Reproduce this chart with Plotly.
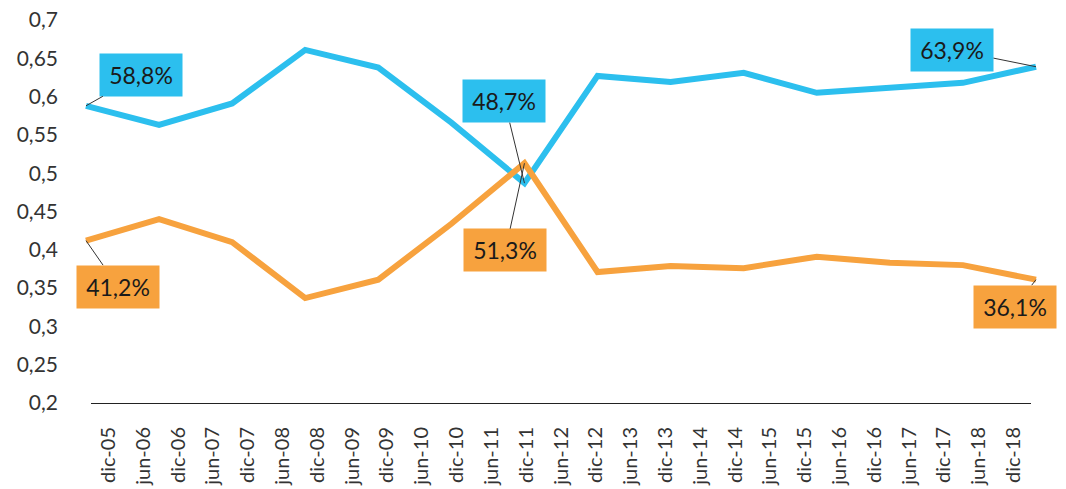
import plotly.graph_objects as go

# Category labels on the x axis (semiannual)
x_labels = ["dic-05", "jun-06", "dic-06", "jun-07", "dic-07", "jun-08", "dic-08",
            "jun-09", "dic-09", "jun-10", "dic-10", "jun-11", "dic-11", "jun-12",
            "dic-12", "jun-13", "dic-13", "jun-14", "dic-14", "jun-15", "dic-15",
            "jun-16", "dic-16", "jun-17", "dic-17", "jun-18", "dic-18"]

# Annual observations (dic-05 .. dic-18)
years = list(range(14))
blue_vals = [0.588, 0.563, 0.591, 0.661, 0.638, 0.566, 0.487, 0.627, 0.619,
             0.631, 0.605, 0.611, 0.618, 0.639]
orange_vals = [0.412, 0.440, 0.410, 0.337, 0.361, 0.434, 0.513, 0.371, 0.379,
               0.376, 0.391, 0.383, 0.380, 0.361]

# Labelled values
labels = [
    # (series, index, text, ax, ay)
    ("blue", 0, "58,8%", 55, -31),
    ("blue", 6, "48,7%", -20, -82),
    ("blue", 13, "63,9%", -84, -17),
    ("orange", 0, "41,2%", 32, 46),
    ("orange", 6, "51,3%", -19, 87),
    ("orange", 13, "36,1%", -21, 27),
]

BLUE = "#2CBFEE"
ORANGE = "#F7A23E"
FONT = "Lato"

fig = go.Figure()

# dummy trace to carry the category label axis
fig.add_trace(go.Scatter(x=x_labels, y=[None] * len(x_labels), mode="lines",
                         xaxis="x2", yaxis="y", showlegend=False, hoverinfo="skip"))
fig.add_trace(go.Scatter(x=years, y=blue_vals, mode="lines",
                         line=dict(color=BLUE, width=6), xaxis="x", yaxis="y",
                         showlegend=False, hoverinfo="skip"))
fig.add_trace(go.Scatter(x=years, y=orange_vals, mode="lines",
                         line=dict(color=ORANGE, width=6), xaxis="x", yaxis="y",
                         showlegend=False, hoverinfo="skip"))

# body margin is removed in the page (see post_script), so no offset
W, H = 1066, 489
plot_left, plot_right = 80, 1056          # page pixels
plot_top, plot_bottom = 20, 403
L = plot_left
R = W - plot_right
T = plot_top
B = H - plot_bottom
pw = plot_right - plot_left
first_px, last_px = 86, 1036              # where first / last observations sit
ppu = (last_px - first_px) / (len(years) - 1)
x_lo = -(first_px - plot_left) / ppu
x_hi = (len(years) - 1) + (plot_right - last_px) / ppu

series = {"blue": (blue_vals, BLUE), "orange": (orange_vals, ORANGE)}
for s, i, txt, ax, ay in labels:
    vals, col = series[s]
    fig.add_annotation(x=years[i], y=vals[i], xref="x", yref="y", text=txt,
                       showarrow=True, arrowhead=0, arrowwidth=1, arrowcolor="#333333",
                       ax=ax, ay=ay, bgcolor=col, width=80, height=40,
                       font=dict(family=FONT, size=23, color="#1a1a1a"))

fig.update_layout(
    width=W, height=H,
    margin=dict(l=L, r=R, t=T, b=B),
    paper_bgcolor="white", plot_bgcolor="rgba(0,0,0,0)",
    separators=",.",
    font=dict(family=FONT, size=20, color="#333333"),
    xaxis=dict(range=[x_lo, x_hi], domain=[0, 1], showgrid=False, showline=False,
               showticklabels=False, zeroline=False, ticks="", automargin=False),
    xaxis2=dict(type="category", range=[-0.5, len(x_labels) - 0.5],
                domain=[(91 - plot_left) / pw, (1031 - plot_left) / pw], anchor="y",
                showgrid=False, showline=True, linecolor="#222222", linewidth=1,
                ticks="", tickangle=-90, tickfont=dict(family=FONT, size=20, color="#333333"),
                ticklabelstandoff=15, automargin=False, ticklabeloverflow="allow"),
    yaxis=dict(range=[0.2, 0.7], dtick=0.05, tick0=0.2, showgrid=False, zeroline=False,
               showline=False, anchor="x", ticks="", ticklabelstandoff=21, automargin=False,
               ticklabeloverflow="allow",
               tickfont=dict(family=FONT, size=21, color="#333333")),
)

fig.write_html("out.html", config={"displayModeBar": False},
               post_script="document.body.style.margin='0';document.body.style.padding='0';")
